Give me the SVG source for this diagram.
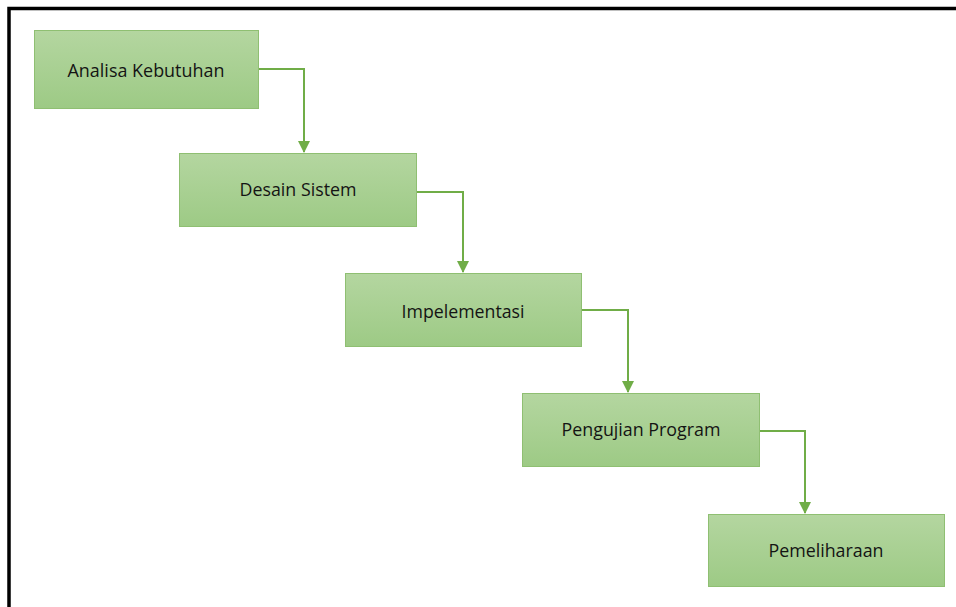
<svg xmlns="http://www.w3.org/2000/svg" width="956" height="607" viewBox="0 0 956 607">
<defs>
<linearGradient id="g" x1="0" y1="0" x2="0" y2="1">
<stop offset="0" stop-color="#b4d6a0"/>
<stop offset="1" stop-color="#9dca85"/>
</linearGradient>
<marker id="ah" markerWidth="6" markerHeight="6" refX="5.5" refY="3" orient="auto" markerUnits="strokeWidth">
<path d="M0,0 L6,3 L0,6 Z" fill="#70ad47"/>
</marker>
<style>
.box{fill:url(#g);stroke:#8fbf72;stroke-width:1}
.lbl{font-family:"Open Sans","Noto Sans",sans-serif;font-size:18.5px;fill:#141414;text-anchor:middle}
.con{fill:none;stroke:#70ad47;stroke-width:2}
</style>
</defs>
<rect width="956" height="607" fill="#ffffff"/>
<path d="M9,607 V8.5 H956" fill="none" stroke="#000" stroke-width="3.5"/>
<g id="connectors">
<path class="con" d="M259,69 H304 V152" marker-end="url(#ah)"/>
<path class="con" d="M417,192 H463 V272" marker-end="url(#ah)"/>
<path class="con" d="M582,310 H628 V392" marker-end="url(#ah)"/>
<path class="con" d="M760,431 H805 V513" marker-end="url(#ah)"/>
</g>
<g id="n1"><rect class="box" x="34.5" y="30.5" width="224" height="78"/><text class="lbl" x="146" y="77" textLength="157" lengthAdjust="spacingAndGlyphs">Analisa Kebutuhan</text></g>
<g id="n2"><rect class="box" x="179.5" y="153.5" width="237" height="73"/><text class="lbl" x="298" y="196" textLength="117" lengthAdjust="spacingAndGlyphs">Desain Sistem</text></g>
<g id="n3"><rect class="box" x="345.5" y="273.5" width="236" height="73"/><text class="lbl" x="463" y="318" textLength="123" lengthAdjust="spacingAndGlyphs">Impelementasi</text></g>
<g id="n4"><rect class="box" x="522.5" y="393.5" width="237" height="73"/><text class="lbl" x="641" y="436" textLength="159" lengthAdjust="spacingAndGlyphs">Pengujian Program</text></g>
<g id="n5"><rect class="box" x="708.5" y="514.5" width="236" height="72"/><text class="lbl" x="826" y="557" textLength="115" lengthAdjust="spacingAndGlyphs">Pemeliharaan</text></g>
</svg>
